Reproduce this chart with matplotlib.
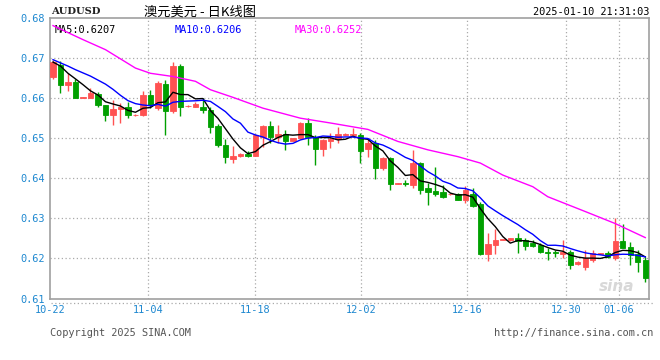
import numpy as np
import matplotlib.pyplot as plt
from matplotlib.lines import Line2D

# daily candles AUDUSD
opens = [0.6654, 0.6683, 0.6634, 0.6640, 0.6601, 0.6601, 0.6611, 0.6583, 0.6557, 0.6573,
         0.6578, 0.6557, 0.6557, 0.6608, 0.6576, 0.6636, 0.6567, 0.6679, 0.6580, 0.6579,
         0.6577, 0.6571, 0.6531, 0.6483, 0.6448, 0.6456, 0.6461, 0.6456, 0.6504, 0.6531,
         0.6502, 0.6511, 0.6494, 0.6500, 0.6538, 0.6502, 0.6473, 0.6492, 0.6498, 0.6509,
         0.6509, 0.6508, 0.6472, 0.6487, 0.6426, 0.6450, 0.6386, 0.6389, 0.6384, 0.6437,
         0.6375, 0.6369, 0.6365, 0.6360, 0.6361, 0.6347, 0.6362, 0.6336, 0.6211, 0.6233,
         0.6246, 0.6246, 0.6250, 0.6246, 0.6239, 0.6233, 0.6215, 0.6215, 0.6210, 0.6217,
         0.6187, 0.6178, 0.6196, 0.6212, 0.6213, 0.6200, 0.6244, 0.6229, 0.6210, 0.6196]
highs = [0.6696, 0.6693, 0.6662, 0.6648, 0.6604, 0.6625, 0.6615, 0.6583, 0.6596, 0.6588,
         0.6590, 0.6560, 0.6617, 0.6621, 0.6644, 0.6646, 0.6689, 0.6685, 0.6582, 0.6590,
         0.6600, 0.6579, 0.6536, 0.6497, 0.6481, 0.6463, 0.6469, 0.6511, 0.6533, 0.6544,
         0.6533, 0.6521, 0.6501, 0.6540, 0.6550, 0.6508, 0.6497, 0.6513, 0.6529, 0.6512,
         0.6525, 0.6514, 0.6500, 0.6496, 0.6454, 0.6454, 0.6389, 0.6396, 0.6471, 0.6441,
         0.6388, 0.6429, 0.6383, 0.6362, 0.6364, 0.6381, 0.6375, 0.6342, 0.6264, 0.6273,
         0.6249, 0.6252, 0.6263, 0.6250, 0.6245, 0.6238, 0.6225, 0.6221, 0.6245, 0.6221,
         0.6193, 0.6221, 0.6221, 0.6214, 0.6219, 0.6302, 0.6286, 0.6242, 0.6221, 0.6204]
lows = [0.6649, 0.6612, 0.6619, 0.6600, 0.6600, 0.6600, 0.6579, 0.6544, 0.6534, 0.6537,
        0.6550, 0.6556, 0.6556, 0.6575, 0.6571, 0.6508, 0.6562, 0.6556, 0.6579, 0.6577,
        0.6562, 0.6512, 0.6478, 0.6439, 0.6439, 0.6454, 0.6454, 0.6455, 0.6479, 0.6488,
        0.6488, 0.6471, 0.6493, 0.6499, 0.6483, 0.6433, 0.6456, 0.6475, 0.6488, 0.6508,
        0.6504, 0.6439, 0.6452, 0.6397, 0.6421, 0.6371, 0.6385, 0.6381, 0.6377, 0.6362,
        0.6333, 0.6356, 0.6350, 0.6359, 0.6347, 0.6339, 0.6329, 0.6208, 0.6194, 0.6211,
        0.6245, 0.6244, 0.6214, 0.6221, 0.6228, 0.6213, 0.6196, 0.6204, 0.6200, 0.6173,
        0.6183, 0.6172, 0.6192, 0.6211, 0.6200, 0.6196, 0.6225, 0.6183, 0.6167, 0.6141]
closes = [0.6689, 0.6634, 0.6641, 0.6601, 0.6603, 0.6612, 0.6582, 0.6557, 0.6573, 0.6578,
          0.6557, 0.6559, 0.6607, 0.6582, 0.6638, 0.6567, 0.6679, 0.6579, 0.6581, 0.6585,
          0.6571, 0.6529, 0.6482, 0.6452, 0.6456, 0.6461, 0.6456, 0.6508, 0.6531, 0.6502,
          0.6511, 0.6494, 0.6500, 0.6538, 0.6502, 0.6473, 0.6496, 0.6497, 0.6511, 0.6510,
          0.6510, 0.6469, 0.6487, 0.6426, 0.6450, 0.6385, 0.6388, 0.6386, 0.6437, 0.6371,
          0.6367, 0.6362, 0.6354, 0.6361, 0.6347, 0.6371, 0.6332, 0.6211, 0.6236, 0.6246,
          0.6248, 0.6250, 0.6244, 0.6232, 0.6232, 0.6215, 0.6213, 0.6213, 0.6217, 0.6183,
          0.6191, 0.6200, 0.6213, 0.6213, 0.6204, 0.6244, 0.6227, 0.6208, 0.6190, 0.6150]

# moving average values before enough candles are on screen
ma5_head = [0.6690, 0.6680, 0.6662, 0.6648]
ma10_head = [0.6696, 0.6688, 0.6680, 0.6671, 0.6663, 0.6655, 0.6645, 0.6635, 0.6622]

# MA30 line, read at some candles
ma30_idx = [0, 4, 7, 11, 13, 16, 19, 21, 24, 28, 33, 37, 42, 46, 50, 54, 57, 60, 64, 66, 71, 75, 79]
ma30_val = [0.6781, 0.6746, 0.6721, 0.6675, 0.6662, 0.6654, 0.6642, 0.6621, 0.6602, 0.6575,
            0.6550, 0.6538, 0.6522, 0.6492, 0.6471, 0.6454, 0.6438, 0.6408, 0.6379, 0.6354,
            0.6317, 0.6287, 0.6252]

tick_labels = ['10-22', '11-04', '11-18', '12-02', '12-16', '12-30', '01-06']
tick_pos = [-0.33, 12.7, 26.9, 41.1, 55.2, 68.4, 75.5]

y_ticks = [0.61, 0.62, 0.63, 0.64, 0.65, 0.66, 0.67, 0.68]

RED = '#FF5252'
GREEN = '#00A000'
BLUE_TXT = '#1E88D0'
MONO = 'DejaVu Sans Mono'

o = np.array(opens)
h = np.array(highs)
l = np.array(lows)
c = np.array(closes)
n = len(c)
x = np.arange(n)

ma5 = np.concatenate([ma5_head, np.convolve(c, np.ones(5) / 5, mode='valid')])
ma10 = np.concatenate([ma10_head, np.convolve(c, np.ones(10) / 10, mode='valid')])

fig = plt.figure(figsize=(6.6, 3.6), dpi=100)
ax = fig.add_axes([50 / 660, 61.5 / 360, 599 / 660, 280.5 / 360])

# grid
for v in y_ticks[1:-1]:
    ax.axhline(v, color='#AAAAAA', lw=0.9, ls=(0, (1, 2)), zorder=0)
for p in tick_pos[1:]:
    ax.axvline(p, color='#AAAAAA', lw=0.9, ls=(0, (1, 2)), zorder=0)

# candles
up = c >= o
cols = np.where(up, RED, GREEN)
ax.vlines(x, l, h, colors=cols, lw=1, zorder=2)
ax.bar(x, np.abs(c - o), bottom=np.minimum(o, c), width=0.72,
       color=cols, edgecolor=cols, linewidth=0.6, zorder=3)

ax.plot(x, ma5, color='black', lw=1, zorder=4)
ax.plot(x, ma10, color='#0000FF', lw=1, zorder=4)
ax.plot(ma30_idx, ma30_val, color='#FF00FF', lw=1, zorder=4)

ax.set_xlim(-0.4, 79.5)
ax.set_ylim(0.61, 0.68)
ax.set_yticks(y_ticks)
ax.set_yticklabels(['%.2f' % v for v in y_ticks])
ax.set_xticks(tick_pos)
ax.set_xticklabels(tick_labels)
ax.tick_params(axis='y', length=0, pad=4, labelsize=7.4, labelcolor=BLUE_TXT)
ax.tick_params(axis='x', length=0, pad=5, labelsize=7.4, labelcolor=BLUE_TXT)
for lab in ax.get_xticklabels() + ax.get_yticklabels():
    lab.set_family(MONO)
for s in ax.spines.values():
    s.set_color('#A0A0A0')
    s.set_linewidth(1.2)

# legend texts inside plot
ax.text(0.008, 0.975, 'MA5:0.6207', transform=ax.transAxes, color='black',
        fontsize=7.4, family=MONO, va='top')
ax.text(0.208, 0.975, 'MA10:0.6206', transform=ax.transAxes, color='#0000FF',
        fontsize=7.4, family=MONO, va='top')
ax.text(0.408, 0.975, 'MA30:0.6252', transform=ax.transAxes, color='#FF00FF',
        fontsize=7.4, family=MONO, va='top')

# sina watermark
ax.text(0.975, 0.015, 'sina', transform=ax.transAxes, color='#D8D8D8', fontsize=11,
        style='italic', weight='bold', ha='right', va='bottom', zorder=1)

# dotted separator under the plot
fig.add_artist(Line2D([51 / 660, 653 / 660], [1 - 302.5 / 360, 1 - 302.5 / 360],
                      color='#AAAAAA', lw=0.9, ls=(0, (1, 2))))

fig.text(51 / 660, 1 - 12 / 360, 'AUDUSD', family='DejaVu Serif', weight='bold',
         fontsize=7.2, va='center', color='#222222')
fig.text(200 / 660, 1 - 12 / 360, '澳元美元 - 日K线图', family=['Noto Sans CJK SC', 'DejaVu Sans'],
         fontsize=9.5, ha='center', va='center', color='black')
fig.text(649 / 660, 1 - 12 / 360, '2025-01-10 21:31:03', family=MONO, fontsize=7.4,
         ha='right', va='center', color='black')
fig.text(50 / 660, 1 - 333 / 360, 'Copyright 2025 SINA.COM', family=MONO, fontsize=7.4,
         va='center', color='#555555')
fig.text(653 / 660, 1 - 333 / 360, 'http://finance.sina.com.cn', family=MONO, fontsize=7.4,
         ha='right', va='center', color='#555555')

fig.savefig('out.png', dpi=100)
